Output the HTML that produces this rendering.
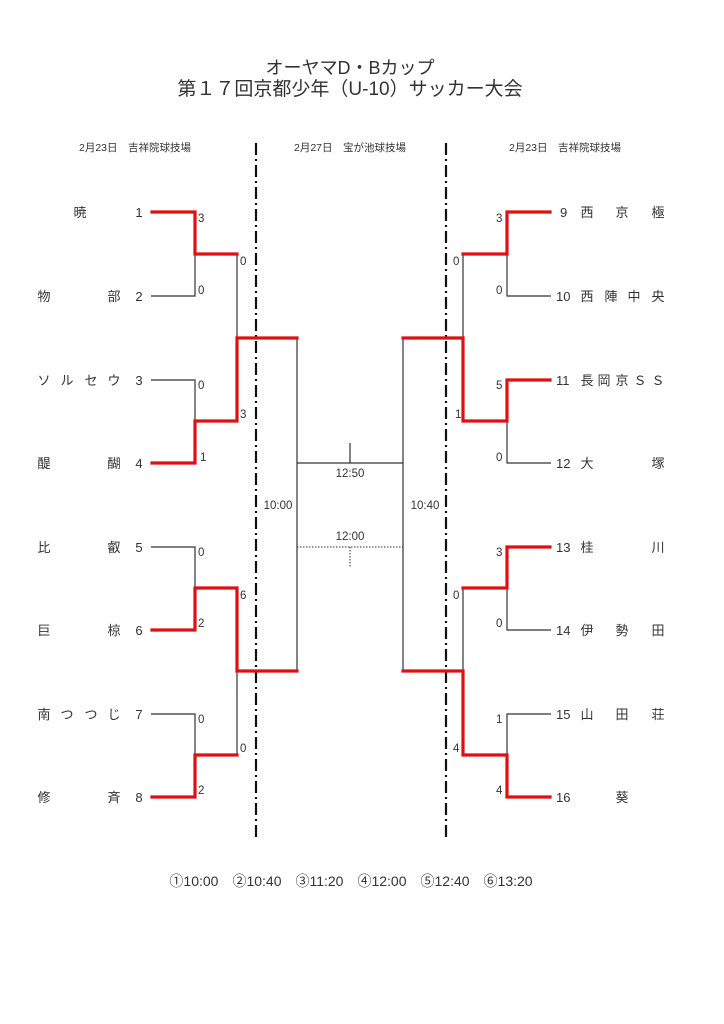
<!DOCTYPE html>
<html><head><meta charset="utf-8"><style>
html,body{margin:0;padding:0;background:#fff;}
svg{display:block;}
text{font-family:"Liberation Sans","Noto Sans CJK JP",sans-serif;fill:#333;}
</style></head><body>
<svg width="724" height="1024" viewBox="0 0 724 1024" xmlns="http://www.w3.org/2000/svg">
<text x="350" y="74" font-size="18" text-anchor="middle">オーヤマD・Bカップ</text>
<text x="350" y="95" font-size="19" text-anchor="middle">第１７回京都少年（U-10）サッカー大会</text>
<text x="135" y="151" font-size="10.5" text-anchor="middle">2月23日　吉祥院球技場</text>
<text x="350" y="151" font-size="10.5" text-anchor="middle">2月27日　宝が池球技場</text>
<text x="565" y="151" font-size="10.5" text-anchor="middle">2月23日　吉祥院球技場</text>

<g stroke="#111" stroke-width="2.2" stroke-dasharray="12,4,2,4">
<line x1="256" y1="143" x2="256" y2="840"/>
<line x1="446" y1="143" x2="446" y2="840"/>
</g>

<g fill="none" stroke="#333" stroke-width="1.2">
<path d="M151 296H195V254"/>
<path d="M151 380H195V421"/>
<path d="M151 547H195V588"/>
<path d="M151 714H195V755"/>
<path d="M237 254V338"/>
<path d="M237 671V755"/>
<path d="M297 338V671"/>
<path d="M551 296H507V254"/>
<path d="M551 463H507V421"/>
<path d="M551 630H507V588"/>
<path d="M551 714H507V755"/>
<path d="M463 254V338"/>
<path d="M463 588V671"/>
<path d="M403 338V671"/>
<path d="M297 463H403"/>
<path d="M350 443V463"/>
</g>
<g fill="none" stroke="#333" stroke-width="1" stroke-dasharray="1.5,1.5">
<path d="M297 547H403"/>
<path d="M350 547V567"/>
</g>

<g fill="none" stroke="#e01010" stroke-width="3.2" stroke-linejoin="miter" stroke-linecap="square">
<path d="M152 212H195V254H237"/>
<path d="M152 463H195V421H237V338H297"/>
<path d="M152 630H195V588H237V671H297"/>
<path d="M152 797H195V755H237"/>
<path d="M550 212H507V254H463"/>
<path d="M550 380H507V421H463V338H403"/>
<path d="M550 547H507V588H463"/>
<path d="M550 797H507V755H463V671H403"/>
</g>

<g font-size="11.5">
<text x="198" y="222">3</text><text x="198" y="294">0</text>
<text x="240" y="265">0</text><text x="240" y="418">3</text>
<text x="198" y="389">0</text><text x="200" y="461">1</text>
<text x="198" y="556">0</text><text x="198" y="627">2</text>
<text x="240" y="599">6</text><text x="240" y="752">0</text>
<text x="198" y="723">0</text><text x="198" y="794">2</text>
<text x="496" y="222">3</text><text x="496" y="294">0</text>
<text x="453" y="265">0</text><text x="455" y="418">1</text>
<text x="496" y="389">5</text><text x="496" y="461">0</text>
<text x="496" y="556">3</text><text x="496" y="627">0</text>
<text x="453" y="599">0</text><text x="453" y="752">4</text>
<text x="496" y="723">1</text><text x="496" y="794">4</text>
</g>

<g font-size="11.5" text-anchor="middle">
<text x="350" y="477">12:50</text>
<text x="350" y="540">12:00</text>
<text x="278" y="509">10:00</text>
<text x="425" y="509">10:40</text>
</g>

<g font-size="13" text-anchor="middle">
<text x="80" y="217">暁</text><text x="139" y="217">1</text>
<text x="44" y="301">物</text><text x="114" y="301">部</text><text x="139" y="301">2</text>
<text x="44" y="385">ソ</text><text x="67" y="385">ル</text><text x="91" y="385">セ</text><text x="114" y="385">ウ</text><text x="139" y="385">3</text>
<text x="44" y="468">醍</text><text x="114" y="468">醐</text><text x="139" y="468">4</text>
<text x="44" y="552">比</text><text x="114" y="552">叡</text><text x="139" y="552">5</text>
<text x="44" y="635">巨</text><text x="114" y="635">椋</text><text x="139" y="635">6</text>
<text x="44" y="719">南</text><text x="67" y="719">つ</text><text x="91" y="719">つ</text><text x="114" y="719">じ</text><text x="139" y="719">7</text>
<text x="44" y="802">修</text><text x="114" y="802">斉</text><text x="139" y="802">8</text>
</g>
<g font-size="13">
<text x="560" y="217">9</text><text x="556" y="301">10</text><text x="556" y="385">11</text><text x="556" y="468">12</text>
<text x="556" y="552">13</text><text x="556" y="635">14</text><text x="556" y="719">15</text><text x="556" y="802">16</text>
</g>
<g font-size="13" text-anchor="middle">
<text x="587" y="217">西</text><text x="622" y="217">京</text><text x="658" y="217">極</text>
<text x="587" y="301">西</text><text x="611" y="301">陣</text><text x="634" y="301">中</text><text x="658" y="301">央</text>
<text x="587" y="385">長</text><text x="604" y="385">岡</text><text x="622" y="385">京</text><text x="640" y="385">Ｓ</text><text x="658" y="385">Ｓ</text>
<text x="587" y="468">大</text><text x="658" y="468">塚</text>
<text x="587" y="552">桂</text><text x="658" y="552">川</text>
<text x="587" y="635">伊</text><text x="622" y="635">勢</text><text x="658" y="635">田</text>
<text x="587" y="719">山</text><text x="622" y="719">田</text><text x="658" y="719">荘</text>
<text x="622" y="802">葵</text>
</g>

<text x="351" y="886" font-size="14" text-anchor="middle">①10:00　②10:40　③11:20　④12:00　⑤12:40　⑥13:20</text>
</svg>
</body></html>
